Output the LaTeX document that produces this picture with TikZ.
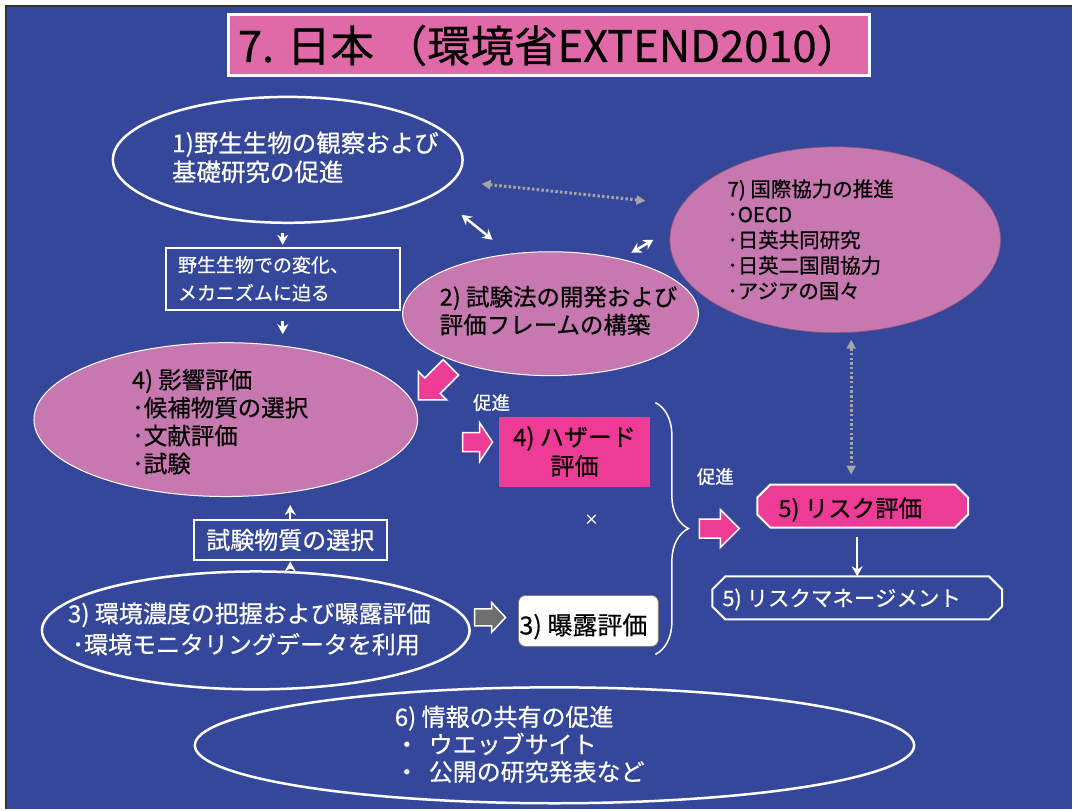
\documentclass[tikz,border=0pt]{standalone}
\usepackage{fontspec}
\setmainfont{Noto Sans CJK JP}[UprightFeatures={FakeBold=0.6}]
\usetikzlibrary{shapes.geometric,decorations.pathreplacing,arrows.meta,calc}
\definecolor{bgblue}{RGB}{52,71,154}
\definecolor{ellpink}{RGB}{200,120,176}
\definecolor{titlepink}{RGB}{224,106,168}
\definecolor{mag}{RGB}{238,60,150}
\definecolor{dotgray}{RGB}{165,165,165}
\definecolor{blkgray}{RGB}{110,110,110}
% block arrow: fill, x, y, rotation, length, total width, shaft width, head length
\newcommand\blkarrow[8]{%
  \begin{scope}[shift={(#2,#3)}, rotate=#4]
    \filldraw[fill=#1, draw=white, line width=1.5pt, line join=miter]
      ({-#5/2},{-#7/2}) -- ({#5/2-#8},{-#7/2}) -- ({#5/2-#8},{-#6/2}) -- ({#5/2},0)
      -- ({#5/2-#8},{#6/2}) -- ({#5/2-#8},{#7/2}) -- ({-#5/2},{#7/2}) -- cycle;
  \end{scope}}
\begin{document}
\begin{tikzpicture}[x=1pt,y=-1pt,
  txt/.style={inner sep=0pt, align=left, anchor=west},
  wellipse/.style={ellipse, draw=white, line width=2.5pt, fill=bgblue, inner sep=0pt},
  pellipse/.style={ellipse, draw=white, line width=1pt, fill=ellpink, inner sep=0pt},
  wbox/.style={draw=white, line width=2pt, inner sep=0pt},
  warrow/.style={-{Stealth[length=10pt,width=11pt]}, white, line width=2.5pt},
  wdarrow/.style={{Stealth[length=10pt,width=11pt]}-{Stealth[length=10pt,width=11pt]}, white, line width=2.5pt},
  dotarrow/.style={{Triangle[length=9pt,width=9pt]}-{Triangle[length=9pt,width=9pt]}, draw=dotgray, line width=3pt, dash pattern=on 2.5pt off 2.2pt},
]
% background
\fill[white] (0,0) rectangle (1073,810);
\fill[bgblue] (7,7) rectangle (1073,810);
\draw[line width=2pt, color=black!80] (6,810) -- (6,6) -- (1073,6);

% title
\node[draw=white, line width=3pt, fill=titlepink, minimum width=641pt, minimum height=61pt, inner sep=0pt,
      font=\fontsize{43.5}{46}\selectfont] (title) at (549.5,45.5) {7. 日本 （環境省EXTEND2010）};

% ellipses
\node[wellipse, minimum width=350pt, minimum height=126pt] (e1) at (288,160) {};
\node[txt, text=white, font=\fontsize{24.5}{29}\selectfont] (t1) at (172,157.5) {1)野生生物の観察および\\基礎研究の促進};

\node[pellipse, minimum width=296pt, minimum height=124pt] (e2) at (551,314) {};
\node[txt, text=black, font=\fontsize{23.5}{28}\selectfont] (t2) at (440,311) {2) 試験法の開発および\\評価フレームの構築};

\node[ellipse, draw=ellpink!70!black, line width=0.6pt, fill=ellpink, inner sep=0pt, minimum width=331pt, minimum height=186pt] (e7) at (836,240) {};
\node[txt, text=black, font=\fontsize{20.5}{25.5}\selectfont] (t7) at (728,240) {7) 国際協力の推進\\･OECD\\･日英共同研究\\･日英二国間協力\\･アジアの国々};

\node[pellipse, minimum width=384pt, minimum height=154pt] (e4) at (226,420) {};
\node[txt, text=black, font=\fontsize{23.5}{28}\selectfont] (t4) at (132,422) {4) 影響評価\\･候補物質の選択\\･文献評価\\･試験};

\node[wellipse, minimum width=428pt, minimum height=118pt] (e3) at (256,631) {};
\node[txt, text=white, font=\fontsize{24}{31}\selectfont] (t3) at (68,629.5) {3) 環境濃度の把握および曝露評価\\\hspace*{4pt}･環境モニタリングデータを利用};

\node[wellipse, minimum width=720pt, minimum height=116pt] (e6) at (555,746) {};
\node[txt, text=white, font=\fontsize{24}{27.5}\selectfont] (t6) at (395,745) {6) 情報の共有の促進\\・\hspace{10pt}ウエッブサイト\\・\hspace{10pt}公開の研究発表など};

% boxes
\node[wbox, minimum width=234pt, minimum height=62pt] (box1) at (283,279) {};
\node[txt, text=white, font=\fontsize{19}{28}\selectfont] (tb1) at (178,279) {野生生物での変化、\\メカニズムに迫る};

\node[wbox, minimum width=193pt, minimum height=41pt, text=white, font=\fontsize{24}{26}\selectfont] (box2) at (290.5,540.5) {試験物質の選択};

\node[fill=mag, minimum width=152pt, minimum height=70pt, inner sep=0pt, align=center, text=black,
      font=\fontsize{24}{29}\selectfont] (haz) at (575,452) {4) ハザード\\評価};

\node[draw=black!50, line width=0.8pt, fill=white, rounded corners=7pt, minimum width=140pt, minimum height=51pt, inner sep=0pt] (expo) at (589,621.5) {};
\node[inner sep=0pt, text=black, font=\fontsize{25}{28}\selectfont] (texpo) at (584,627) {3) 曝露評価};

% risk boxes (chamfered)
\filldraw[fill=mag, draw=white, line width=2pt] (771,485) -- (956,485) -- (969,498) -- (969,515) -- (956,528) -- (771,528) -- (758,515) -- (758,498) -- cycle;
\node[minimum width=211pt, minimum height=43pt, inner sep=0pt] (risk) at (863.5,506.5) {};
\node[txt, text=black, font=\fontsize{23.5}{25}\selectfont] (trisk) at (779,510) {5) リスク評価};

\draw[white, line width=2pt] (726,577) -- (990,577) -- (1003,590) -- (1003,607) -- (990,620) -- (726,620) -- (713,607) -- (713,590) -- cycle;
\node[minimum width=290pt, minimum height=43pt, inner sep=0pt] (rm) at (858,598.5) {};
\node[txt, text=white, font=\fontsize{21.5}{25}\selectfont] (trm) at (723,600) {5) リスクマネージメント};

% labels
\node[text=white, font=\fontsize{18.5}{20}\selectfont, inner sep=0pt] (p1) at (492,403) {促進};
\node[text=white, font=\fontsize{18.5}{20}\selectfont, inner sep=0pt] (p2) at (716,477) {促進};
\node[text=white, font=\fontsize{14}{16}\selectfont, inner sep=0pt] (x) at (592,520) {×};

% block arrows
\blkarrow{mag}{435}{384}{225}{46}{40}{22}{20}
\blkarrow{mag}{478}{442.5}{0}{30}{39}{19}{13}
\blkarrow{blkgray}{490.5}{618}{0}{31}{30}{17}{14}
\blkarrow{mag}{720}{529}{0}{40}{38}{19}{19}

% brace
\draw[white, line width=1.5pt, decorate, decoration={brace, amplitude=33pt}] (656,403) -- (656,655);

% small white arrows
\draw[warrow, shorten <=9pt, shorten >=2pt] (e1.south -| box1.north) -- (box1.north);
\draw[warrow, shorten <=10pt, shorten >=8pt] (box1.south) -- (e4.north -| box1.south);
\draw[warrow, shorten <=1pt] (e3.north -| box2.south) -- (box2.south);
\draw[warrow, shorten >=8pt] (box2.north) -- (e4.south -| box2.north);
\draw[warrow, shorten <=9pt] (risk.south -| rm.north) -- (rm.north);

% double arrows
\coordinate (d1a) at (462,215); \coordinate (d1b) at (493,240);
\coordinate (d2a) at (632,253); \coordinate (d2b) at (654,240);
\draw[wdarrow] (d1a) -- (d1b);
\draw[wdarrow] (d2a) -- (d2b);

% dotted arrows
\coordinate (h1) at (482,184); \coordinate (h2) at (646,201);
\draw[dotarrow] (h1) -- (h2);
\coordinate (v1) at (852,340); \coordinate (v2) at (852,475);
\draw[dotarrow] (v1) -- (v2);
\end{tikzpicture}
\end{document}
